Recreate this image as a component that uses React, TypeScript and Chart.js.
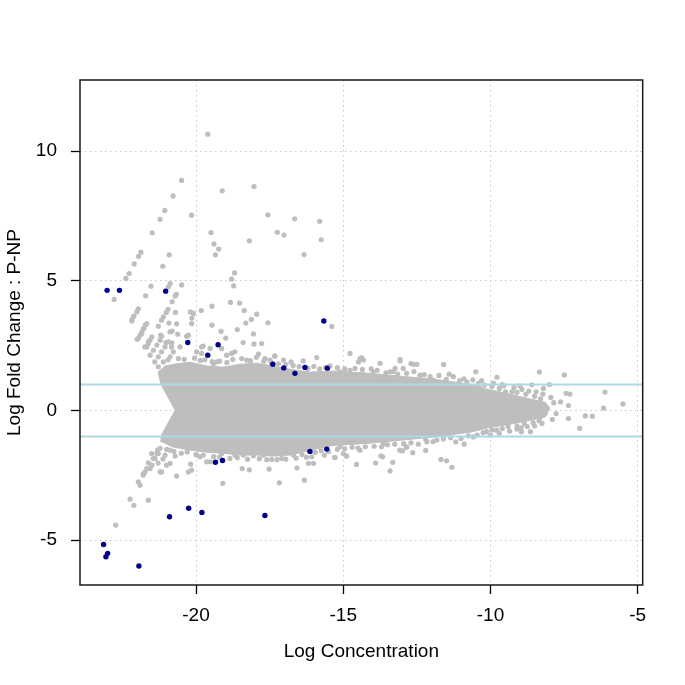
import React, { useEffect, useRef } from 'react';
import { Chart, registerables } from 'chart.js';

Chart.register(...registerables);

const FONT = '"Liberation Sans", Arial, Helvetica, sans-serif';

const X_TICKS = [-20, -15, -10, -5];
const Y_TICKS = [-5, 0, 5, 10];
const X_RANGE = [-23.94, -4.83];
const Y_RANGE = [-6.73, 12.74];
const THRESHOLDS = [1, -1];
const X_TITLE = 'Log Concentration';
const Y_TITLE = 'Log Fold Change : P-NP';

// differentially expressed tags (dark blue)
const BLUE_POINTS: [number, number][] = [
  [-23.02, 4.63], [-22.6, 4.63], [-21.03, 4.6], [-20.28, 2.62], [-19.25, 2.53],
  [-15.66, 3.45], [-19.6, 2.13], [-17.39, 1.78], [-17.02, 1.64], [-16.64, 1.43],
  [-16.3, 1.66], [-15.54, 1.63], [-16.13, -1.58], [-15.56, -1.49], [-19.34, -2.0],
  [-19.1, -1.93], [-20.9, -4.1], [-20.25, -3.77], [-19.8, -3.93], [-17.66, -4.05],
  [-23.14, -5.17], [-23.06, -5.64], [-23.0, -5.51], [-21.94, -6.0],
];

// individual tags outside the dense cloud (grey)
const GREY_POINTS: [number, number][] = [
  [-19.6, 10.65], [-20.49, 8.87], [-20.78, 8.27], [-21.06, 7.71], [-21.22, 7.37], [-21.49, 6.85],
  [-21.87, 6.1], [-21.95, 5.94], [-22.1, 5.65], [-22.27, 5.28], [-22.38, 5.09], [-22.78, 4.28],
  [-21.53, 4.79], [-21.71, 4.42], [-21.96, 3.92], [-22.11, 3.64], [-22.18, 3.45],
  [-20.91, 6.0], [-21.13, 5.56], [-20.15, 7.53], [-20.49, 4.84],
  [-19.11, 8.47], [-18.03, 8.63], [-17.56, 7.54], [-16.65, 7.39], [-19.49, 6.86], [-19.39, 6.42],
  [-19.23, 6.22], [-19.34, 6.0], [-18.19, 6.54], [-17.24, 6.87], [-17.01, 6.76],
  [-18.69, 5.3], [-18.79, 5.06], [-18.72, 4.8], [-18.83, 4.17], [-18.52, 4.14], [-18.36, 3.85],
  [-17.94, 3.71], [-18.12, 3.51], [-18.31, 3.37], [-18.6, 3.12], [-18.05, 2.95], [-18.4, 2.62],
  [-17.56, 3.38], [-19.46, 4.02], [-19.82, 3.85], [-19.46, 3.29], [-19.15, 3.05], [-18.99, 2.79],
  [-20.19, 3.8], [-20.14, 3.56], [-20.15, 3.35], [-20.7, 3.78], [-20.92, 3.37], [-20.66, 3.34],
  [-20.81, 3.06], [-20.62, 2.94], [-20.32, 2.86], [-21.28, 3.25], [-21.17, 2.86], [-21.02, 2.62],
  [-20.82, 2.61], [-22.0, 2.74], [-19.76, 2.48],
  [-20.88, 4.89], [-20.94, 4.76], [-20.67, 4.48], [-20.71, 4.41], [-20.81, 4.19], [-20.95, 3.9],
  [-21.01, 3.78], [-21.11, 3.61], [-21.17, 3.48],
  [-21.72, 3.29], [-21.79, 3.16], [-21.84, 3.03], [-21.9, 2.9],
  [-21.5, 2.84], [-21.56, 2.71], [-21.62, 2.58], [-21.67, 2.45],
  [-15.8, 7.29], [-15.75, 6.58], [-16.33, 6.01], [-18.03, 2.56], [-15.39, 3.24], [-14.77, 2.2],
  [-14.37, 2.03], [-15.9, 2.04], [-17.33, 2.1], [-13.07, 1.97],
  [-11.59, 1.77], [-10.5, 1.49], [-9.78, 1.28], [-8.34, 1.48], [-7.49, 1.37], [-8.0, 1.0],
  [-8.6, 0.99], [-8.93, 0.81], [-9.49, 0.72], [-9.27, 0.72], [-8.22, 0.63], [-7.43, 0.66],
  [-7.3, 0.63], [-7.62, 0.33], [-7.35, 0.19], [-6.11, 0.71], [-5.5, 0.25], [-6.16, 0.09],
  [-6.78, -0.21], [-6.54, -0.22], [-7.35, -0.31], [-6.97, -0.69], [-7.77, -0.12], [-8.15, -0.12],
  [-8.34, -0.32], [-8.64, -0.82], [-8.95, -0.82], [-8.96, -0.67],
  [-11.31, -2.19], [-11.49, -1.94], [-11.68, -1.89], [-13.41, -2.33], [-13.32, -2.0], [-13.9, -2.03],
  [-14.55, -2.08], [-13.72, -1.75], [-12.99, -1.56], [-12.64, -1.63], [-12.2, -1.54], [-10.89, -1.3],
  [-11.18, -1.21], [-14.9, -1.75],
  [-13.07, 1.91], [-13.75, 1.82], [-14.37, 1.98], [-14.48, 1.87], [-12.7, 1.81], [-12.5, 1.78],
  [-12.62, 1.78],
  [-16.01, -2.04], [-16.18, -2.04], [-15.29, -1.81], [-12.86, -1.43], [-13.08, -1.53], [-13.66, -1.79],
  [-19.98, 2.26], [-19.81, 2.2], [-19.52, 2.39], [-19.3, 1.87], [-18.96, 2.13], [-18.79, 2.2],
  [-18.68, 2.26], [-17.88, 2.17], [-17.66, 2.0], [-17.32, 2.09], [-17.03, 1.94], [-18.28, 1.94],
  [-16.36, 1.91],
  [-22.18, 3.48], [-22.13, 3.61], [-22.01, 3.8], [-21.96, 2.78], [-21.84, 2.97], [-21.77, 3.16],
  [-21.67, 3.35], [-21.74, 2.45], [-21.62, 2.64], [-21.56, 2.13], [-21.45, 2.32], [-21.33, 2.52],
  [-21.22, 2.71], [-21.4, 1.87], [-21.28, 2.07], [-21.17, 2.26], [-21.05, 2.45], [-20.94, 2.64],
  [-21.28, 1.68], [-21.11, 1.87], [-20.88, 2.07], [-20.77, 2.26],
  [-17.77, 2.58], [-19.13, 2.39], [-17.49, 1.94], [-16.77, 1.87], [-14.43, 2.0], [-14.31, 1.94],
  [-19.41, 1.81], [-19.81, 2.45], [-20.54, 2.45], [-20.83, 2.45], [-20.26, 2.9], [-20.09, 3.74],
  [-20.88, 3.03], [-21.2, 2.9],
  [-21.62, -2.02], [-21.5, -2.11], [-21.56, -2.24], [-21.73, -2.37], [-21.79, -2.49], [-21.96, -2.75],
  [-21.9, -2.88], [-22.24, -3.42], [-22.11, -3.66], [-21.62, -3.46], [-22.73, -4.42], [-21.17, -2.37],
  [-21.39, -1.85], [-21.28, -1.66], [-21.0, -2.11], [-20.88, -2.04], [-20.66, -2.53], [-20.26, -2.37],
  [-20.15, -2.3], [-20.18, -2.07], [-19.64, -1.98], [-19.52, -1.98], [-19.09, -2.81], [-18.43, -2.24],
  [-18.19, -2.29], [-17.52, -2.26], [-17.17, -2.79], [-16.57, -2.22], [-16.32, -2.69], [-16.07, -1.79],
  [-15.64, -1.72], [-15.28, -1.81], [-14.88, -1.76], [-18.68, -1.72], [-18.39, -1.72], [-18.05, -1.75],
  [-17.71, -1.72], [-17.43, -1.89], [-17.09, -1.85], [-16.69, -1.72], [-19.13, -1.66], [-19.86, -1.79],
  [-19.98, -1.72],
  [-21.79, -2.44], [-21.67, -2.24], [-21.45, -1.85], [-21.33, -1.66], [-21.22, -1.46], [-21.05, -1.72],
  [-20.88, -1.53], [-20.71, -1.76], [-21.29, -2.03], [-21.12, -1.87], [-21.51, -1.66], [-21.31, -1.53],
  [-21.22, -2.37], [-15.0, -1.66],
  [-15.11, 1.49], [-14.77, 1.55], [-13.98, 1.49], [-13.7, 1.3], [-13.41, 1.49], [-13.24, 1.62],
  [-12.96, 1.62], [-12.39, 1.36], [-11.94, 1.17], [-11.26, 1.3], [-10.8, 1.1], [-10.35, 0.85],
  [-15.11, -1.4], [-14.43, -1.53], [-13.7, -1.4], [-13.64, -1.28], [-12.84, -1.4], [-12.16, -1.21],
  [-11.82, -1.14], [-10.58, -1.02], [-10.13, -0.82], [-9.79, -0.76],
  // ragged upper edge of the dense cloud
  [-20.95, 1.95], [-20.6, 2.0], [-20.4, 1.97], [-20.05, 2.02], [-19.85, 1.93], [-19.7, 1.95],
  [-19.45, 1.88], [-19.2, 1.9], [-18.95, 1.85], [-18.75, 1.97], [-18.45, 2.0], [-18.15, 1.92],
  [-17.95, 2.05], [-17.7, 1.9], [-17.45, 1.85], [-17.2, 1.8], [-16.95, 1.78], [-16.7, 1.73],
  [-16.5, 1.69], [-16.2, 1.62], [-16.0, 1.7], [-15.8, 1.6], [-15.6, 1.66], [-15.45, 1.72],
  [-15.2, 1.65], [-14.95, 1.6], [-14.6, 1.62], [-14.35, 1.58], [-14.05, 1.6], [-13.85, 1.55],
  [-13.55, 1.45], [-13.3, 1.5], [-13.15, 1.4], [-12.85, 1.43], [-12.6, 1.5], [-12.25, 1.38],
  [-12.05, 1.3], [-11.75, 1.35], [-11.5, 1.2], [-11.4, 1.4], [-11.05, 1.15], [-10.9, 1.22],
  [-10.6, 1.18], [-10.4, 1.05], [-10.2, 0.98], [-9.95, 0.92], [-9.7, 0.85], [-9.55, 0.95],
  [-9.1, 0.7], [-8.8, 0.62], [-8.5, 0.55], [-8.3, 0.45],
  // ragged lower edge of the dense cloud
  [-21.0, -1.5], [-20.75, -1.58], [-20.5, -1.65], [-20.3, -1.6], [-20.0, -1.7], [-19.75, -1.72],
  [-19.4, -1.78], [-19.2, -1.8], [-18.85, -1.85], [-18.6, -1.82], [-18.25, -1.88], [-17.85, -1.86],
  [-17.6, -1.9], [-17.25, -1.9], [-16.95, -1.88], [-16.6, -1.84], [-16.4, -1.7], [-16.25, -1.8],
  [-15.95, -1.62], [-15.75, -1.55], [-15.5, -1.58], [-15.2, -1.5], [-14.95, -1.48], [-14.7, -1.42],
  [-14.5, -1.45], [-14.25, -1.4], [-13.95, -1.38], [-13.5, -1.32], [-13.25, -1.3], [-12.95, -1.28],
  [-12.7, -1.25], [-12.45, -1.3], [-12.2, -1.12], [-11.95, -1.2], [-11.6, -1.1], [-11.35, -1.05],
  [-11.0, -1.08], [-10.75, -0.98], [-10.45, -0.95], [-10.25, -0.85], [-9.95, -0.75], [-9.6, -0.7],
  [-9.4, -0.62], [-9.1, -0.6], [-8.85, -0.52], [-8.55, -0.47], [-8.35, -0.4],
  // loose tags around the high-concentration end
  [-10.3, 1.15], [-9.9, 1.05], [-9.6, 1.0], [-9.2, 0.88], [-9.0, 0.95], [-8.7, 0.75],
  [-8.45, 0.72], [-8.2, 0.85], [-10.0, -0.95], [-9.7, -0.88], [-9.35, -0.8], [-9.1, -0.72],
  [-8.75, -0.62], [-8.5, -0.6], [-8.25, -0.5], [-7.9, -0.35], [-7.85, 0.3], [-7.95, 0.5],
];

// outline of the solid mass of overlapping tags
const DENSE_OUTLINE: [number, number][] = [
  [-21.19, 1.01], [-21.29, 1.48], [-21.05, 1.71], [-20.71, 1.79], [-20.2, 1.86], [-19.63, 1.71],
  [-19.08, 1.67], [-18.5, 1.78], [-17.93, 1.82], [-17.38, 1.71], [-16.81, 1.59], [-16.13, 1.48],
  [-15.35, 1.52], [-14.19, 1.44], [-13.07, 1.32], [-11.95, 1.21], [-10.69, 1.01], [-10.12, 0.82],
  [-9.33, 0.63], [-8.76, 0.47], [-8.15, 0.32], [-7.98, 0.09], [-8.15, -0.26], [-8.76, -0.41],
  [-9.33, -0.53], [-10.12, -0.68], [-10.69, -0.84], [-11.95, -1.03], [-13.07, -1.15], [-14.19, -1.27],
  [-15.35, -1.35], [-16.13, -1.54], [-16.81, -1.72], [-17.38, -1.76], [-17.93, -1.72], [-18.5, -1.72],
  [-19.08, -1.65], [-19.63, -1.61], [-20.2, -1.53], [-20.78, -1.41], [-21.22, -1.18], [-21.19, -0.99],
  [-20.71, 0.01], [-21.19, 1.01],
];

const GREY = '#BEBEBE';
const BLUE = '#00008B';

const framePlugin = {
  id: 'rframe',
  afterDatasetsDraw(chart: any) {
    const { ctx, chartArea, scales } = chart;
    ctx.save();
    ctx.strokeStyle = '#ADD8E6';
    ctx.lineWidth = 2;
    THRESHOLDS.forEach((t) => {
      const y = scales.y.getPixelForValue(t);
      ctx.beginPath();
      ctx.moveTo(chartArea.left, y);
      ctx.lineTo(chartArea.right, y);
      ctx.stroke();
    });
    ctx.restore();
  },
  afterDraw(chart: any) {
    const { ctx, chartArea } = chart;
    ctx.save();
    ctx.strokeStyle = '#1a1a1a';
    ctx.lineWidth = 1.5;
    ctx.strokeRect(chartArea.left, chartArea.top, chartArea.right - chartArea.left, chartArea.bottom - chartArea.top);
    ctx.restore();
  },
};

export default function App() {
  const ref = useRef<HTMLCanvasElement | null>(null);

  useEffect(() => {
    if (!ref.current) return;
    const toXY = (arr: [number, number][]) => arr.map(([x, y]) => ({ x, y }));
    const axisCommon = {
      type: 'linear' as const,
      grid: {
        color: '#c8c8c8',
        lineWidth: 1,
        drawTicks: true,
        tickLength: 9,
        tickColor: '#000',
        tickWidth: 1.3,
      },
      border: { display: false, dash: [1.5, 3.5] },
    };
    const chart = new Chart(ref.current, {
      type: 'scatter',
      data: {
        datasets: [
          {
            label: 'DE',
            data: toXY(BLUE_POINTS),
            backgroundColor: BLUE,
            borderWidth: 0,
            pointRadius: 2.7,
            order: 0,
          },
          {
            label: 'tags',
            data: toXY(GREY_POINTS),
            backgroundColor: GREY,
            borderWidth: 0,
            pointRadius: 2.6,
            order: 1,
          },
          {
            type: 'line',
            label: 'dense',
            data: toXY(DENSE_OUTLINE),
            fill: 'shape',
            backgroundColor: GREY,
            borderColor: GREY,
            borderWidth: 1,
            pointRadius: 0,
            tension: 0,
            order: 2,
          } as any,
        ],
      },
      options: {
        responsive: false,
        animation: false,
        events: [],
        layout: { padding: { left: 0, top: 80, right: 42.3, bottom: 0 } },
        plugins: { legend: { display: false }, tooltip: { enabled: false } },
        scales: {
          x: {
            ...axisCommon,
            min: X_RANGE[0],
            max: X_RANGE[1],
            afterBuildTicks: (s: any) => {
              s.ticks = X_TICKS.map((v) => ({ value: v }));
            },
            afterFit: (s: any) => {
              s.height = 100;
            },
            ticks: {
              color: '#000',
              font: { family: FONT, size: 19 },
              padding: 10.5,
              maxRotation: 0,
              autoSkip: false,
              callback: (v: any) => String(v),
            },
            title: {
              display: true,
              text: X_TITLE,
              color: '#000',
              font: { family: FONT, size: 19, lineHeight: 1 },
              padding: { top: 0, bottom: 23.5 },
            },
          },
          y: {
            ...axisCommon,
            min: Y_RANGE[0],
            max: Y_RANGE[1],
            afterBuildTicks: (s: any) => {
              s.ticks = Y_TICKS.map((v) => ({ value: v }));
            },
            afterFit: (s: any) => {
              s.width = 80;
            },
            ticks: {
              color: '#000',
              font: { family: FONT, size: 19 },
              padding: 14,
              autoSkip: false,
              callback: (v: any) => String(v),
            },
            title: {
              display: true,
              text: Y_TITLE,
              color: '#000',
              font: { family: FONT, size: 19, lineHeight: 1 },
              padding: { top: 5.5, bottom: 0 },
            },
          },
        },
      } as any,
      plugins: [framePlugin],
    });
    return () => chart.destroy();
  }, []);

  return (
    <div style={{ position: 'fixed', left: 0, top: 0, width: 685, height: 685, background: '#fff' }}>
      <canvas ref={ref} width={685} height={685} style={{ display: 'block', width: 685, height: 685 }} />
    </div>
  );
}
